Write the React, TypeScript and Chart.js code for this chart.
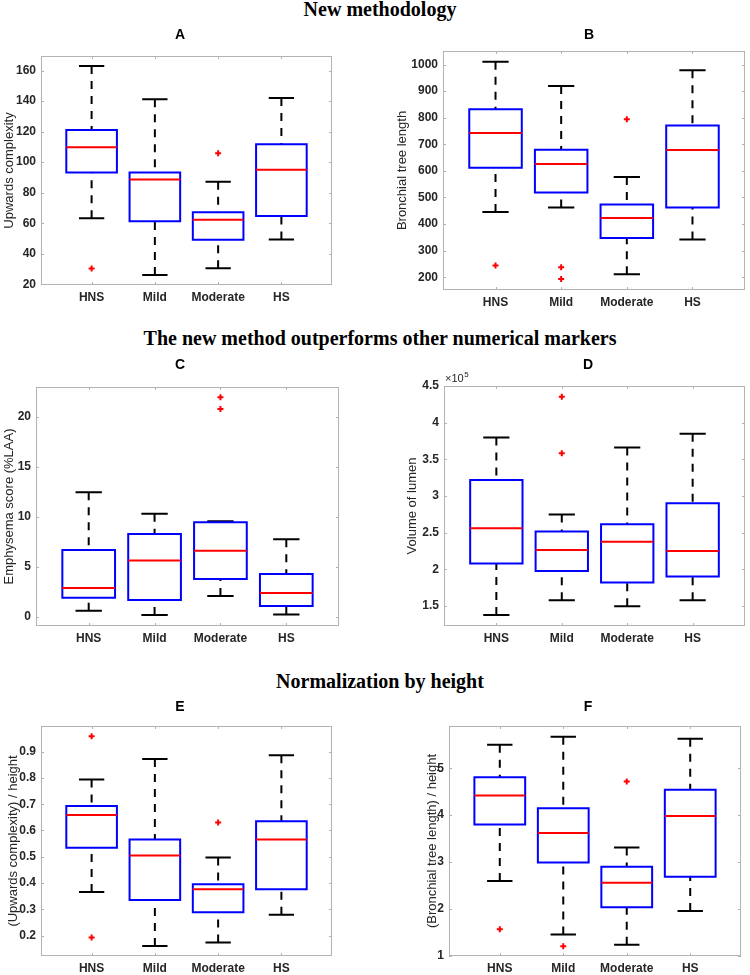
import React, { useEffect, useRef } from 'react';
import { Chart, registerables } from 'chart.js';

Chart.register(...registerables);

// ---------- shared categories ----------
const categories = ['HNS', 'Mild', 'Moderate', 'HS'];
const categoryPositions = [1, 2, 3, 4];

// ---------- A: Upwards complexity ----------
const upwardsHigh = [163.1, 141.2, 87.1, 142.1];
const upwardsQ3 = [121.1, 93.2, 67.2, 111.7];
const upwardsMedian = [109.8, 88.6, 62.2, 95.1];
const upwardsQ1 = [93.2, 61.3, 49.1, 64.8];
const upwardsLow = [63.2, 26.1, 30.5, 49.3];
const upwardsOutliers = [[30.3], [], [105.8], []];
const upwardsTicks = [20, 40, 60, 80, 100, 120, 140, 160];

// ---------- B: Bronchial tree length ----------
const lengthHigh = [1011, 919, 577, 979];
const lengthQ3 = [832, 680, 474, 771];
const lengthMedian = [743, 626, 423, 679];
const lengthQ1 = [612, 519, 348, 462];
const lengthLow = [445, 462, 211, 342];
const lengthOutliers = [[244], [238, 193], [794], []];
const lengthTicks = [200, 300, 400, 500, 600, 700, 800, 900, 1000];

// ---------- C: Emphysema score ----------
const emphHigh = [12.45, 10.32, 9.55, 7.75];
const emphQ3 = [6.68, 8.28, 9.45, 4.27];
const emphMedian = [2.87, 5.64, 6.61, 2.37];
const emphQ1 = [1.9, 1.67, 3.77, 1.07];
const emphLow = [0.6, 0.17, 2.07, 0.23];
const emphOutliers = [[], [], [21.97, 20.8], []];
const emphTicks = [0, 5, 10, 15, 20];

// ---------- D: Volume of lumen ----------
const volumeHigh = [379700, 274700, 366000, 384700];
const volumeQ3 = [321700, 251400, 261400, 290200];
const volumeMedian = [255900, 226300, 237700, 224900];
const volumeQ1 = [208000, 197500, 182000, 190200];
const volumeLow = [137700, 157800, 149500, 157800];
const volumeOutliers = [[], [435400, 358200], [], []];
const volumeTicks = [150000, 200000, 250000, 300000, 350000, 400000, 450000];

// ---------- E: Upwards complexity / height ----------
const normUpHigh = [0.794, 0.872, 0.497, 0.887];
const normUpQ3 = [0.693, 0.566, 0.395, 0.635];
const normUpMedian = [0.659, 0.505, 0.376, 0.566];
const normUpQ1 = [0.534, 0.335, 0.289, 0.376];
const normUpLow = [0.366, 0.16, 0.173, 0.279];
const normUpOutliers = [[0.959, 0.192], [], [0.63], []];
const normUpTicks = [0.2, 0.3, 0.4, 0.5, 0.6, 0.7, 0.8, 0.9];

// ---------- F: Bronchial tree length / height ----------
const normLenHigh = [5.5, 5.67, 3.31, 5.63];
const normLenQ3 = [4.81, 4.15, 2.9, 4.54];
const normLenMedian = [4.42, 3.62, 2.56, 3.98];
const normLenQ1 = [3.8, 2.99, 2.04, 2.69];
const normLenLow = [2.6, 1.46, 1.24, 1.96];
const normLenOutliers = [[1.57], [1.21], [4.72], []];
const normLenTicks = [1, 2, 3, 4, 5];

// ---------- titles ----------
const sectionTitles = [
  'New methodology',
  'The new method outperforms other numerical markers',
  'Normalization by height',
];

// ---------- style constants ----------
const BOX_HALF = 0.4;
const CAP_HALF = 0.2;
const TEXT = '#262626';
const FRAME = '#b3b3b3';
const SANS = '"Liberation Sans", Arial, Helvetica, sans-serif';

type Series = {
  high: number[];
  q3: number[];
  median: number[];
  q1: number[];
  low: number[];
  outliers: number[][];
};

type PanelCfg = {
  letter: string;
  yTitle: string;
  series: Series;
  yTicks: number[];
  yMin: number;
  yMax: number;
  tickFormat: (v: number) => string;
  exponent?: boolean;
  canvas: { left: number; top: number; w: number; h: number };
  area: { left: number; top: number; right: number; bottom: number };
  letterPos: { x: number; y: number };
};

function buildDatasets(s: Series) {
  const box: any[] = [];
  const med: any[] = [];
  const whisk: any[] = [];
  const caps: any[] = [];
  const outs: any[] = [];
  categoryPositions.forEach((c, i) => {
    const gap = { x: c, y: null };
    box.push(
      { x: c - BOX_HALF, y: s.q1[i] },
      { x: c + BOX_HALF, y: s.q1[i] },
      { x: c + BOX_HALF, y: s.q3[i] },
      { x: c - BOX_HALF, y: s.q3[i] },
      { x: c - BOX_HALF, y: s.q1[i] },
      gap
    );
    med.push({ x: c - BOX_HALF, y: s.median[i] }, { x: c + BOX_HALF, y: s.median[i] }, gap);
    whisk.push(
      { x: c, y: s.high[i] },
      { x: c, y: s.q3[i] },
      gap,
      { x: c, y: s.low[i] },
      { x: c, y: s.q1[i] },
      gap
    );
    caps.push(
      { x: c - CAP_HALF, y: s.high[i] },
      { x: c + CAP_HALF, y: s.high[i] },
      gap,
      { x: c - CAP_HALF, y: s.low[i] },
      { x: c + CAP_HALF, y: s.low[i] },
      gap
    );
    s.outliers[i].forEach((v) => outs.push({ x: c, y: v }));
  });
  const lineBase = {
    type: 'line' as const,
    pointRadius: 0,
    pointHoverRadius: 0,
    tension: 0,
    spanGaps: false,
    fill: false,
  };
  return [
    {
      ...lineBase,
      label: 'outliers',
      data: outs,
      showLine: false,
      pointStyle: 'cross',
      pointRadius: 3,
      pointBorderWidth: 2,
      borderColor: '#ff0000',
      pointBorderColor: '#ff0000',
      borderWidth: 2,
    },
    { ...lineBase, label: 'median', data: med, borderColor: '#ff0000', borderWidth: 2 },
    {
      ...lineBase,
      label: 'box',
      data: box,
      borderColor: '#0000ff',
      borderWidth: 2,
      borderJoinStyle: 'miter' as const,
      borderCapStyle: 'square' as const,
    },
    { ...lineBase, label: 'caps', data: caps, borderColor: '#000000', borderWidth: 2 },
    {
      ...lineBase,
      label: 'whiskers',
      data: whisk,
      borderColor: '#000000',
      borderWidth: 2,
      borderDash: [8, 7],
    },
  ];
}

const matlabFrame = {
  id: 'matlabFrame',
  afterDraw(chart: any, _args: any, opts: any) {
    const { ctx, chartArea: a, scales } = chart;
    ctx.save();
    ctx.strokeStyle = FRAME;
    ctx.lineWidth = 1;
    ctx.strokeRect(a.left + 0.5, a.top + 0.5, a.right - a.left - 1, a.bottom - a.top - 1);
    const tl = 3;
    ctx.beginPath();
    scales.y.ticks.forEach((t: any) => {
      const py = Math.round(scales.y.getPixelForValue(t.value)) + 0.5;
      ctx.moveTo(a.left, py);
      ctx.lineTo(a.left + tl, py);
      ctx.moveTo(a.right - tl, py);
      ctx.lineTo(a.right, py);
    });
    scales.x.ticks.forEach((t: any) => {
      const px = Math.round(scales.x.getPixelForValue(t.value)) + 0.5;
      ctx.moveTo(px, a.bottom);
      ctx.lineTo(px, a.bottom - tl);
      ctx.moveTo(px, a.top);
      ctx.lineTo(px, a.top + tl);
    });
    ctx.stroke();

    // panel letter
    ctx.fillStyle = '#000000';
    ctx.font = `bold 14px ${SANS}`;
    ctx.textAlign = 'center';
    ctx.textBaseline = 'middle';
    ctx.fillText(opts.letter, opts.letterX, opts.letterY);

    if (opts.exponent) {
      ctx.fillStyle = TEXT;
      ctx.textAlign = 'left';
      ctx.textBaseline = 'alphabetic';
      ctx.font = `11px ${SANS}`;
      const base = '\u00d710';
      const x0 = a.left + 1;
      const y0 = a.top - 4;
      ctx.fillText(base, x0, y0);
      const w = ctx.measureText(base).width;
      ctx.font = `8px ${SANS}`;
      ctx.fillText('5', x0 + w + 0.5, y0 - 5);
    }
    ctx.restore();
  },
};

const panels: PanelCfg[] = [
  {
    letter: 'A',
    yTitle: 'Upwards complexity',
    series: { high: upwardsHigh, q3: upwardsQ3, median: upwardsMedian, q1: upwardsQ1, low: upwardsLow, outliers: upwardsOutliers },
    yTicks: upwardsTicks,
    yMin: 19.5,
    yMax: 169.6,
    tickFormat: (v) => String(v),
    canvas: { left: 0, top: 20, w: 360, h: 295 },
    area: { left: 41, top: 56, right: 332, bottom: 285 },
    letterPos: { x: 180, y: 35 },
  },
  {
    letter: 'B',
    yTitle: 'Bronchial tree length',
    series: { high: lengthHigh, q3: lengthQ3, median: lengthMedian, q1: lengthQ1, low: lengthLow, outliers: lengthOutliers },
    yTicks: lengthTicks,
    yMin: 152,
    yMax: 1051,
    tickFormat: (v) => String(v),
    canvas: { left: 393, top: 20, w: 357, h: 295 },
    area: { left: 443, top: 51, right: 746, bottom: 290 },
    letterPos: { x: 589, y: 35 },
  },
  {
    letter: 'C',
    yTitle: 'Emphysema score (%LAA)',
    series: { high: emphHigh, q3: emphQ3, median: emphMedian, q1: emphQ1, low: emphLow, outliers: emphOutliers },
    yTicks: emphTicks,
    yMin: -0.93,
    yMax: 23.0,
    tickFormat: (v) => String(v),
    canvas: { left: 0, top: 350, w: 360, h: 300 },
    area: { left: 36, top: 387, right: 339, bottom: 626 },
    letterPos: { x: 180, y: 365 },
  },
  {
    letter: 'D',
    yTitle: 'Volume of lumen',
    series: { high: volumeHigh, q3: volumeQ3, median: volumeMedian, q1: volumeQ1, low: volumeLow, outliers: volumeOutliers },
    yTicks: volumeTicks,
    yMin: 122600,
    yMax: 450000,
    tickFormat: (v) => String(Number((v / 100000).toFixed(1))),
    exponent: true,
    canvas: { left: 403, top: 350, w: 347, h: 300 },
    area: { left: 444, top: 386, right: 746, bottom: 626 },
    letterPos: { x: 588, y: 365 },
  },
  {
    letter: 'E',
    yTitle: '(Upwards complexity) / height',
    series: { high: normUpHigh, q3: normUpQ3, median: normUpMedian, q1: normUpQ1, low: normUpLow, outliers: normUpOutliers },
    yTicks: normUpTicks,
    yMin: 0.122,
    yMax: 0.998,
    tickFormat: (v) => v.toFixed(1),
    canvas: { left: 4, top: 690, w: 356, h: 285 },
    area: { left: 41, top: 726, right: 332, bottom: 956 },
    letterPos: { x: 180, y: 707 },
  },
  {
    letter: 'F',
    yTitle: '(Bronchial tree length) / height',
    series: { high: normLenHigh, q3: normLenQ3, median: normLenMedian, q1: normLenQ1, low: normLenLow, outliers: normLenOutliers },
    yTicks: normLenTicks,
    yMin: 1,
    yMax: 5.9,
    tickFormat: (v) => String(v),
    canvas: { left: 423, top: 690, w: 327, h: 285 },
    area: { left: 449, top: 726, right: 741, bottom: 956 },
    letterPos: { x: 588, y: 707 },
  },
];

function BoxPanel({ cfg }: { cfg: PanelCfg }) {
  const ref = useRef<HTMLCanvasElement | null>(null);
  useEffect(() => {
    if (!ref.current) return;
    const { canvas, area } = cfg;
    const yWidth = area.left - canvas.left;
    const xHeight = canvas.top + canvas.h - area.bottom;
    const chart = new Chart(ref.current, {
      type: 'line',
      data: { datasets: buildDatasets(cfg.series) as any },
      plugins: [matlabFrame as any],
      options: {
        animation: false,
        responsive: false,
        maintainAspectRatio: false,
        devicePixelRatio: 1,
        events: [],
        layout: {
          padding: {
            top: area.top - canvas.top,
            right: canvas.left + canvas.w - area.right,
            left: 0,
            bottom: 0,
          },
        },
        plugins: {
          legend: { display: false },
          tooltip: { enabled: false },
          title: { display: false },
          matlabFrame: {
            letter: cfg.letter,
            letterX: cfg.letterPos.x - canvas.left,
            letterY: cfg.letterPos.y - canvas.top,
            exponent: !!cfg.exponent,
          },
        } as any,
        scales: {
          x: {
            type: 'linear',
            min: 0.2,
            max: 4.8,
            grid: { display: false, drawTicks: false },
            border: { display: false },
            afterBuildTicks: (s: any) => {
              s.ticks = categoryPositions.map((v) => ({ value: v }));
            },
            afterFit: (s: any) => {
              s.height = xHeight;
            },
            ticks: {
              autoSkip: false,
              maxRotation: 0,
              padding: 5,
              color: TEXT,
              font: { family: SANS, size: 12, weight: 'bold' },
              callback: (v: any) => categories[categoryPositions.indexOf(Number(v))] ?? '',
            },
          },
          y: {
            type: 'linear',
            min: cfg.yMin,
            max: cfg.yMax,
            grid: { display: false, drawTicks: false },
            border: { display: false },
            afterBuildTicks: (s: any) => {
              s.ticks = cfg.yTicks.map((v) => ({ value: v }));
            },
            afterFit: (s: any) => {
              s.width = yWidth;
            },
            ticks: {
              autoSkip: false,
              padding: 5,
              color: TEXT,
              font: { family: SANS, size: 12, weight: 'bold' },
              callback: (v: any) => cfg.tickFormat(Number(v)),
            },
            title: {
              display: true,
              text: cfg.yTitle,
              color: TEXT,
              font: { family: SANS, size: 13, weight: 'normal' },
              padding: { top: 1.5, bottom: 0 },
            },
          },
        },
      } as any,
    });
    return () => chart.destroy();
  }, [cfg]);
  return (
    <canvas
      ref={ref}
      width={cfg.canvas.w}
      height={cfg.canvas.h}
      style={{
        position: 'absolute',
        left: cfg.canvas.left,
        top: cfg.canvas.top,
        width: cfg.canvas.w,
        height: cfg.canvas.h,
      }}
    />
  );
}

const sectionTitleTops = [-1, 328, 671];

export default function App() {
  return (
    <div
      style={{
        position: 'absolute',
        left: 0,
        top: 0,
        width: 750,
        height: 975,
        overflow: 'hidden',
        background: '#ffffff',
      }}
    >
      {sectionTitles.map((t, i) => (
        <div
          key={t}
          style={{
            position: 'absolute',
            left: 380,
            top: sectionTitleTops[i],
            transform: 'translateX(-50%)',
            whiteSpace: 'nowrap',
            fontFamily: '"Liberation Serif", "Times New Roman", serif',
            fontWeight: 'bold',
            fontSize: 20,
            lineHeight: '20px',
            color: '#000000',
          }}
        >
          {t}
        </div>
      ))}
      {panels.map((p) => (
        <BoxPanel key={p.letter} cfg={p} />
      ))}
    </div>
  );
}
